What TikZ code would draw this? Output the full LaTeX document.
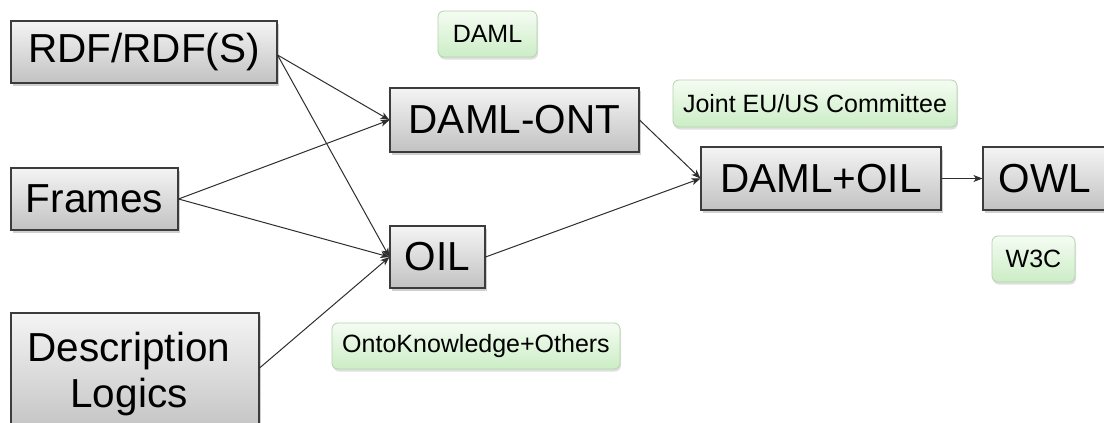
\documentclass[tikz,border=0pt]{standalone}
\usepackage{fontspec}
\setmainfont{Liberation Sans}
\usetikzlibrary{arrows.meta,shadows,calc}
\definecolor{boxline}{HTML}{3C3C3C}
\definecolor{greytop}{HTML}{F4F4F4}
\definecolor{greybot}{HTML}{C2C2C2}
\definecolor{greentop}{HTML}{F5FCF3}
\definecolor{greenbot}{HTML}{CBEDC5}
\definecolor{greenline}{HTML}{B4D4AE}
\definecolor{arrowcol}{HTML}{2E2E2E}
\tikzset{
  x=1pt, y=-1pt,
  langbox/.style={draw=boxline, line width=1.1pt, top color=greytop, bottom color=greybot,
    inner sep=0pt, font=\fontsize{40.5}{47}\selectfont, align=center,
    drop shadow={shadow xshift=1.5pt, shadow yshift=-2.5pt, opacity=0.3, fill=black!60}},
  orgbox/.style={draw=greenline, line width=0.8pt, rounded corners=6pt,
    top color=greentop, bottom color=greenbot, inner sep=0pt,
    font=\fontsize{25}{28}\selectfont,
    drop shadow={shadow xshift=1pt, shadow yshift=-2.5pt, opacity=0.25, fill=black!50}},
  flow/.style={draw=arrowcol, line width=1pt, -{Stealth[length=9pt,width=7pt,inset=2.5pt]}},
}
\begin{document}
\begin{tikzpicture}
\useasboundingbox (0,0) rectangle (1104,423);
\clip (0,0) rectangle (1104,423);
\fill[white] (0,0) rectangle (1104,423);

% source languages
\node[langbox, minimum width=266pt, minimum height=62pt] (rdf) at (144,52) {RDF/RDF(S)};
\node[langbox, minimum width=167pt, minimum height=62pt] (frames) at (94.5,199) {Frames};
\node[langbox, minimum width=248pt, minimum height=122pt] (dl) at (135,374)
  {Description\hspace{12pt}\mbox{}\\[-1pt]Logics\hspace{12pt}\mbox{}};

% intermediate and final languages
\node[langbox, minimum width=249pt, minimum height=64pt] (damlont) at (514.5,120) {DAML-ONT};
\node[langbox, minimum width=95pt, minimum height=62pt] (oil) at (437.5,257) {OIL};
\node[langbox, minimum width=240pt, minimum height=63pt] (damloil) at (821,178.5) {DAML+OIL};
\node[langbox, minimum width=124pt, minimum height=63pt] (owl) at (1045,178.5) {OWL};

% originating bodies
\node[orgbox, minimum width=99pt, minimum height=46pt] (daml) at (487.5,34) {DAML};
\node[orgbox, minimum width=284pt, minimum height=47pt] (joint) at (815,103.5) {Joint EU/US Committee};
\node[orgbox, minimum width=83pt, minimum height=46pt] (w3c) at (1033.5,259) {W3C};
\node[orgbox, minimum width=288pt, minimum height=46pt] (onto) at (476,346) {OntoKnowledge+Others};

% influences
\draw[flow] ([yshift=-3pt]rdf.east) -- (damlont.west);
\draw[flow] ([yshift=-3pt]rdf.east) -- (oil.west);
\draw[flow] (frames.east) -- (damlont.west);
\draw[flow] (frames.east) -- (oil.west);
\draw[flow] ([yshift=6pt]dl.east) -- (oil.west);
\draw[flow] (damlont.east) -- (damloil.west);
\draw[flow] (oil.east) -- (damloil.west);
\draw[flow] (damloil.east) -- (owl.west);
\end{tikzpicture}
\end{document}
